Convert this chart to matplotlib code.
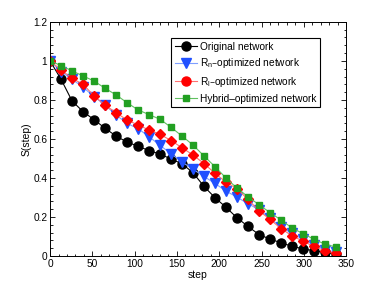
import numpy as np
import matplotlib
matplotlib.use('Agg')
import matplotlib.pyplot as plt
from matplotlib.lines import Line2D
from matplotlib.ticker import MultipleLocator

# шаги, на которых стоят маркеры
steps = np.arange(0, 339, 13)

original = [1.0, 0.906, 0.795, 0.740, 0.699, 0.655, 0.615, 0.584, 0.563, 0.540,
            0.523, 0.497, 0.473, 0.427, 0.357, 0.299, 0.250, 0.196, 0.152, 0.110,
            0.087, 0.068, 0.050, 0.037, 0.027, 0.019, 0.010]
rn_opt = [1.0, 0.945, 0.906, 0.865, 0.817, 0.774, 0.723, 0.680, 0.653, 0.612,
          0.567, 0.525, 0.482, 0.445, 0.408, 0.372, 0.333, 0.302, 0.268, 0.238,
          0.193, 0.150, 0.116, 0.086, 0.058, 0.033, 0.020]
rl_opt = [1.0, 0.954, 0.911, 0.880, 0.821, 0.774, 0.735, 0.697, 0.672, 0.646,
          0.624, 0.592, 0.555, 0.518, 0.474, 0.424, 0.379, 0.345, 0.290, 0.232,
          0.188, 0.141, 0.104, 0.076, 0.049, 0.027, 0.015]
hybrid = [1.0, 0.976, 0.949, 0.923, 0.897, 0.860, 0.826, 0.786, 0.749, 0.725,
          0.701, 0.660, 0.615, 0.569, 0.513, 0.458, 0.400, 0.348, 0.304, 0.263,
          0.223, 0.185, 0.144, 0.115, 0.086, 0.061, 0.046]

labels = ['Original network', r'R$_{n}$–optimized network',
          r'R$_{l}$–optimized network', 'Hybrid–optimized network']

plt.rcParams['font.family'] = ['Liberation Sans', 'DejaVu Sans']
plt.rcParams['mathtext.default'] = 'regular'

fig = plt.figure(figsize=(3.82, 2.88), dpi=100)
ax = fig.add_axes([0.131, 0.111, 0.775, 0.813])

ax.plot(steps, original, color='black', lw=0.8, marker='o', ms=6.5,
        mfc='black', mec='black')
ax.plot(steps, rn_opt, color='#7f9fff', lw=0.8, marker='v', ms=7,
        mfc='#2050ff', mec='#2050ff')
ax.plot(steps, rl_opt, color='#ff7070', lw=0.8, marker='D', ms=5.5,
        mfc='#ff0000', mec='#ff0000')
ax.plot(steps, hybrid, color='#60c060', lw=0.8, marker='s', ms=5,
        mfc='#22a022', mec='#22a022')

# легенда с маркерами как в оригинале
handles = [
    Line2D([], [], color='black', lw=0.8, marker='o', ms=6.5, mfc='black', mec='black'),
    Line2D([], [], color='#7f9fff', lw=0.8, marker='v', ms=7, mfc='#2050ff', mec='#2050ff'),
    Line2D([], [], color='#ff7070', lw=0.8, marker='o', ms=6.5, mfc='#ff0000', mec='#ff0000'),
    Line2D([], [], color='#60c060', lw=0.8, marker='s', ms=5, mfc='#22a022', mec='#22a022'),
]
leg = ax.legend(handles, labels, loc='upper left', bbox_to_anchor=(0.41, 0.93),
                fontsize=7.3, frameon=True, fancybox=False, framealpha=1,
                edgecolor='black', handlelength=2.2, handletextpad=0.3,
                borderpad=0.35, labelspacing=0.45, borderaxespad=0)
leg.get_frame().set_linewidth(0.8)

ax.set_xlim(0, 350)
ax.set_ylim(0, 1.2)
ax.set_xticks(np.arange(0, 351, 50))
ax.set_yticks([0, 0.2, 0.4, 0.6, 0.8, 1.0, 1.2])
ax.set_yticklabels(['0', '0.2', '0.4', '0.6', '0.8', '1', '1.2'])
ax.xaxis.set_minor_locator(MultipleLocator(10))
ax.yaxis.set_minor_locator(MultipleLocator(0.04))
ax.tick_params(which='both', direction='in', top=True, right=True,
               labelsize=7.3, width=0.6, pad=2)
ax.tick_params(which='major', length=3.5)
ax.tick_params(which='minor', length=1.8)
for s in ax.spines.values():
    s.set_linewidth(0.7)

ax.set_xlabel('step', fontsize=7.5, labelpad=1)
ax.set_ylabel('S(step)', fontsize=7.5, labelpad=1)

fig.savefig('out.png', dpi=100)
